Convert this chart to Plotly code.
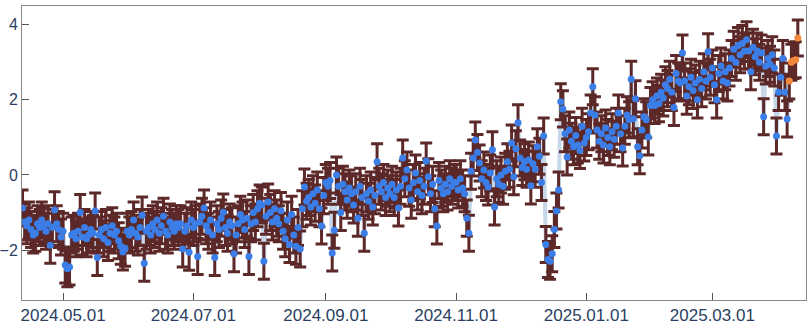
import pandas as pd
import plotly.graph_objects as go

# Daily values, one list per month (first list starts 2024-04-12)
apr24 = [-0.88, -1.25, -1.35, -1.2, -1.45, -1.6, -1.55, -1.3, -1.4, -1.2, -1.35, -1.5, -1.3, -1.87, -1.4, -0.93, -1.3, -1.45, -1.65]
may24 = [-1.5, -2.4, -2.5, -2.45, -1.6, -1.55, -1.7, -1.5, -1.0, -1.65, -1.4, -1.7, -1.6, -1.45, -1.55, -0.96, -2.2, -1.6, -1.45, -1.7, -1.4, -1.8, -1.55, -1.35, -1.6, -1.5, -1.75, -1.9, -2.05, -1.95, -1.5]
jun24 = [-1.6, -1.45, -1.2, -1.55, -1.65, -1.4, -1.07, -2.35, -1.5, -1.4, -1.6, -1.3, -1.45, -1.2, -1.55, -1.35, -1.1, -1.5, -1.6, -1.25, -1.4, -1.5, -1.3, -1.4, -1.3, -1.97, -1.5, -1.35, -2.06, -1.2]
jul24 = [-1.4, -1.3, -2.17, -1.25, -1.1, -0.88, -1.35, -1.5, -1.2, -1.6, -2.2, -1.3, -1.45, -1.15, -0.99, -1.4, -1.55, -1.25, -1.35, -2.1, -1.6, -1.3, -1.05, -1.2, -1.45, -1.15, -2.17, -1.3, -1.0, -1.25, -0.9]
aug24 = [-0.75, -0.8, -2.3, -1.1, -0.72, -1.0, -1.25, -0.9, -1.15, -1.3, -0.95, -1.5, -1.7, -1.2, -1.85, -1.05, -1.6, -1.9, -1.4, -1.97, -0.9, -0.32, -0.7, -0.6, -0.85, -0.5, -0.75, -0.4, -0.9, -1.36, -0.55]
sep24 = [-0.2, -0.3, -0.15, -2.08, -1.47, 0.0, -0.3, -1.0, -0.25, -0.45, -0.67, -0.35, -0.5, -0.8, -0.45, -1.15, -0.3, -0.6, -1.55, -0.5, -0.7, -0.4, -0.85, -0.55, 0.35, -0.3, -0.45, -0.2, -0.6, -0.35]
oct24 = [-0.5, -0.25, -0.6, -0.4, -0.88, -0.3, 0.45, -0.1, 0.13, -0.35, -0.67, -0.2, 0.05, -0.45, -0.15, -0.55, -0.3, 0.37, -0.05, -0.5, -0.25, -0.9, -1.36, -0.15, -0.35, -0.5, -0.25, -0.45, -0.1, -0.3, -0.2]
nov24 = [-0.2, -0.4, -0.1, -0.35, -0.5, -1.15, -1.55, 0.1, 0.45, 0.93, 0.6, 0.32, -0.1, 0.13, -0.2, -0.32, 0.05, 0.67, -0.85, -0.1, -0.25, 0.0, -0.3, 0.1, 0.35, 0.15, 0.85, -0.05, 0.7, 1.39]
dec24 = [0.45, 0.2, 0.35, 0.15, 0.4, -0.29, 0.3, 0.15, 0.75, 0.5, -0.2, 1.04, -1.85, -2.25, -2.3, -2.1, -1.45, -0.96, -0.4, 1.95, 1.76, 1.1, 0.48, 1.2, 0.9, 0.75, 1.05, 0.8, 0.65, 1.3, 0.85]
jan25 = [1.0, 1.15, 1.65, 2.35, 1.6, 1.2, 0.9, 1.1, 0.8, 1.25, 1.0, 0.75, 1.15, 0.95, 1.3, 1.65, 1.1, 0.72, 1.3, 1.6, 1.47, 2.55, 1.5, 2.03, 0.75, 0.51, 1.2, 1.55, 1.47, 1.01, 1.85]
feb25 = [2.0, 1.85, 2.1, 1.9, 2.2, 2.05, 2.4, 2.3, 2.55, 2.2, 1.8, 2.7, 2.5, 2.45, 3.25, 2.5, 2.1, 2.35, 2.6, 2.25, 2.45, 2.0, 2.55, 2.3, 2.75, 2.5, 3.28, 2.6]
mar25 = [2.85, 2.4, 2.0, 2.7, 2.9, 2.5, 2.75, 2.45, 2.85, 3.1, 3.35, 3.0, 3.45, 3.2, 3.5, 3.3, 3.6, 3.3, 2.75, 3.4, 3.15, 3.3, 3.0, 3.25, 1.55, 2.9, 3.1, 2.95, 3.2, 2.85, 1.04]
apr25 = [2.2, 2.6, 3.1, 2.2, 1.49]
latest = [2.5, 3.0, 3.05, 3.07, 3.65]   # orange points from 2025-04-06

month_lists = [apr24, may24, jun24, jul24, aug24, sep24, oct24, nov24, dec24, jan25, feb25, mar25, apr25]
month_starts = ["2024-04-12", "2024-05-01", "2024-06-01", "2024-07-01", "2024-08-01", "2024-09-01",
                "2024-10-01", "2024-11-01", "2024-12-01", "2025-01-01", "2025-02-01", "2025-03-01", "2025-04-01"]
latest_start = "2025-04-06"
err_half = 0.48

x_blue, y_blue = [], []
for start, vals in zip(month_starts, month_lists):
    x_blue += list(pd.date_range(start, periods=len(vals), freq="D"))
    y_blue += vals
x_or = list(pd.date_range(latest_start, periods=len(latest), freq="D"))

fig = go.Figure()
fig.add_trace(go.Scatter(x=x_blue + x_or, y=y_blue + latest, mode="lines",
                         line=dict(color="#c6d7ea", width=4), hoverinfo="skip", showlegend=False))
fig.add_trace(go.Scatter(x=x_blue, y=y_blue, mode="markers",
                         marker=dict(color="#3b7ee8", size=7),
                         error_y=dict(type="constant", value=err_half, color="#5c2828", thickness=3, width=6),
                         showlegend=False))
fig.add_trace(go.Scatter(x=x_or, y=latest, mode="markers",
                         marker=dict(color="#f3893d", size=7),
                         error_y=dict(type="constant", value=err_half, color="#5c2828", thickness=3, width=6),
                         showlegend=False))

axis_common = dict(showgrid=False, zeroline=False, showline=True, linecolor="#888888", linewidth=1,
                   mirror=True, ticks="inside", ticklen=7, tickcolor="#555555", automargin=False)
font_family = "Liberation Sans, Arial, sans-serif"
fig.update_xaxes(range=["2024-04-11 18:00", "2025-04-13 20:00"], tickformat="%Y.%m.%d",
                 dtick="M2", tick0="2024-05-01",
                 tickfont=dict(family=font_family, size=17, color="#2a3f5f"), **axis_common)
fig.update_yaxes(range=[-3.33, 4.5], dtick=2, tick0=0,
                 tickfont=dict(family=font_family, size=16, color="#2a3f5f"), **axis_common)
fig.update_layout(width=808, height=328, margin=dict(l=22, r=2, t=6, b=28, autoexpand=False),
                  plot_bgcolor="white", paper_bgcolor="white")
fig.write_html("out.html", config={"displayModeBar": False},
               post_script="document.body.style.margin='0px';document.body.style.overflow='hidden';")
